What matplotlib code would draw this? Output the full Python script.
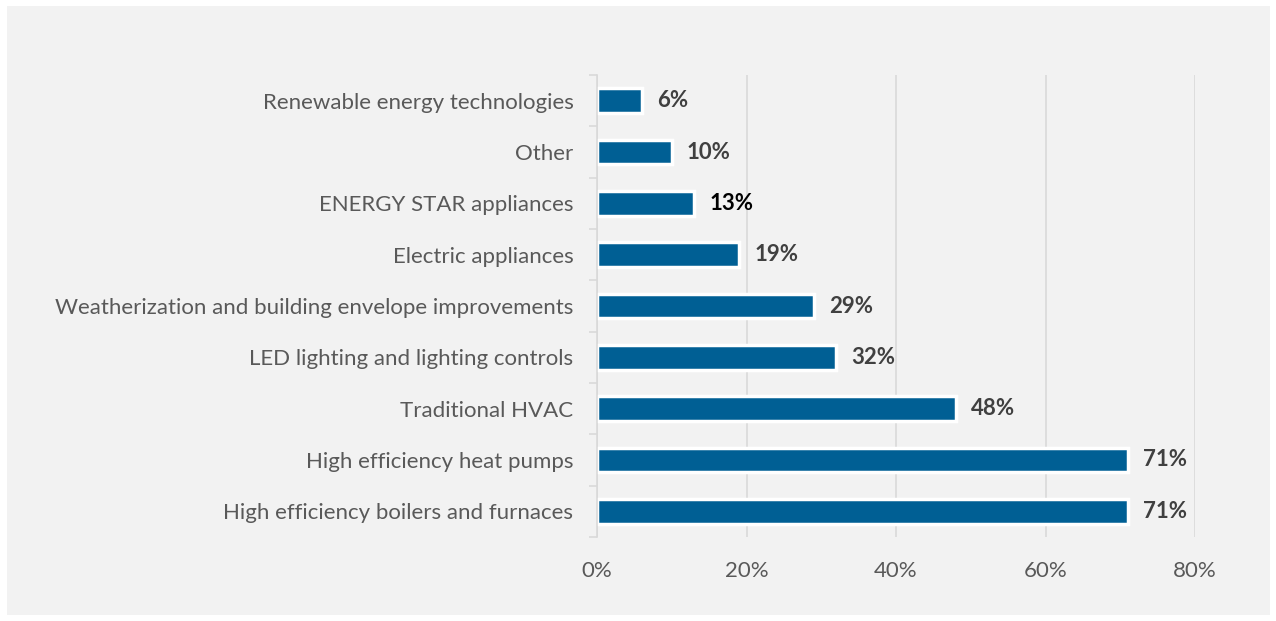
import matplotlib.pyplot as plt
from matplotlib.patches import Rectangle
from matplotlib.ticker import FixedLocator, PercentFormatter

categories = [
    "High efficiency boilers and furnaces",
    "High efficiency heat pumps",
    "Traditional HVAC",
    "LED lighting and lighting controls",
    "Weatherization and building envelope improvements",
    "Electric appliances",
    "ENERGY STAR appliances",
    "Other",
    "Renewable energy technologies",
]
values = [71, 71, 48, 32, 29, 19, 13, 10, 6]
label_colors = ["#404040"] * 6 + ["#000000", "#404040", "#404040"]

BAR_COLOR = "#005f94"
BG = "#f2f2f2"
FONT = ["Lato", "DejaVu Sans"]

plt.rcParams["font.family"] = FONT

fig = plt.figure(figsize=(12.76, 6.21), dpi=100, facecolor="white")
fig.patches.append(Rectangle((7 / 1276, 6 / 621), 1263 / 1276, 609 / 621,
                             transform=fig.transFigure, facecolor=BG,
                             edgecolor="none", zorder=-10))

ax = fig.add_axes([597 / 1276, 84 / 621, 598 / 1276, 462 / 621])
ax.set_facecolor("none")

y = range(len(categories))
ax.barh(y, values, height=0.48, color=BAR_COLOR, edgecolor="white",
        linewidth=2.5, zorder=3)

for yi, v, c in zip(y, values, label_colors):
    ax.annotate(f"{v}%", (v, yi), xytext=(11, 0), textcoords="offset points",
                ha="left", va="center", fontsize=16, fontweight="bold", color=c)

ax.set_xlim(0, 80)
ax.set_ylim(-0.5, len(categories) - 0.5)
ax.xaxis.set_major_locator(FixedLocator([0, 20, 40, 60, 80]))
ax.xaxis.set_major_formatter(PercentFormatter(decimals=0))
ax.grid(axis="x", color="#d9d9d9", linewidth=1.2, zorder=0)

ax.set_yticks(list(y))
ax.set_yticklabels(categories)
ax.yaxis.set_minor_locator(FixedLocator([i - 0.5 for i in range(len(categories) + 1)]))
ax.tick_params(axis="y", which="major", length=0, pad=17, labelsize=16,
               labelcolor="#595959")
ax.tick_params(axis="y", which="minor", length=6, color="#d9d9d9", width=1.2)
ax.tick_params(axis="x", length=0, pad=17, labelsize=16, labelcolor="#595959")

for side in ["top", "right", "bottom"]:
    ax.spines[side].set_visible(False)
ax.spines["left"].set_color("#d9d9d9")
ax.spines["left"].set_linewidth(1.2)
ax.spines["left"].set_zorder(4)

fig.savefig("out.png", dpi=100, facecolor="white")
